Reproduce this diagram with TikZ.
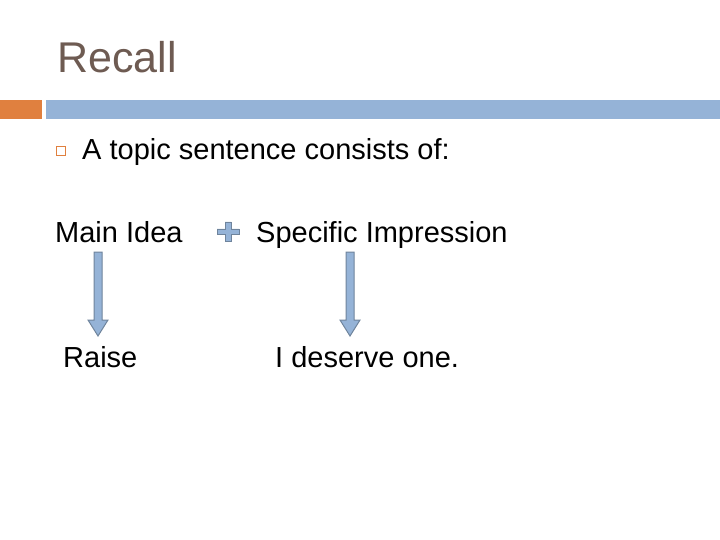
\documentclass[tikz,border=0pt]{standalone}
\usepackage{fontspec}
\setmainfont{Liberation Sans}
\definecolor{orng}{HTML}{E0803F}
\definecolor{bbar}{HTML}{95B3D7}
\definecolor{ttl}{HTML}{6E5B52}
\definecolor{arf}{HTML}{95B3D7}
\definecolor{ard}{HTML}{6F849C}
\begin{document}
\begin{tikzpicture}[x=1pt,y=-1pt,
  txt/.style={anchor=base west,inner sep=0pt,font=\fontsize{29}{34}\selectfont}]
\useasboundingbox (0,0) rectangle (720,540);
\fill[white] (0,0) rectangle (720,540);
\node[anchor=base west,inner sep=0pt,text=ttl,font=\fontsize{43}{48}\selectfont] (title) at (57,73) {Recall};
\fill[orng] (0,100) rectangle (42,119);
\fill[bbar] (46,100) rectangle (720,119);
\node[draw=orng,line width=1pt,minimum size=8.5pt,inner sep=0pt] (bul) at (61,151) {};
\node[txt] (topic) at (82,160) {A topic sentence consists of:};
\node[txt] (main) at (55,242) {Main Idea};
\node[txt] (spec) at (256,242) {Specific Impression};
\node[txt] (raise) at (63,367) {Raise};
\node[txt] (des) at (275,367) {I deserve one.};
\fill[arf,draw=ard,line width=0.8pt] (217,229) -- (225,229) -- (225,222) -- (231,222) -- (231,229) -- (239,229) -- (239,234) -- (231,234) -- (231,241) -- (225,241) -- (225,234) -- (217,234) -- cycle;
\coordinate (a1) at (98,252);
\coordinate (a2) at (350,252);
\foreach \c in {a1,a2}{
  \fill[arf,draw=ard,line width=1pt] ([xshift=-4pt]\c) -- ([xshift=4pt]\c) -- ([xshift=4pt,yshift=-68pt]\c) -- ([xshift=10pt,yshift=-68pt]\c) -- ([yshift=-84pt]\c) -- ([xshift=-10pt,yshift=-68pt]\c) -- ([xshift=-4pt,yshift=-68pt]\c) -- cycle;
}
\end{tikzpicture}
\end{document}
